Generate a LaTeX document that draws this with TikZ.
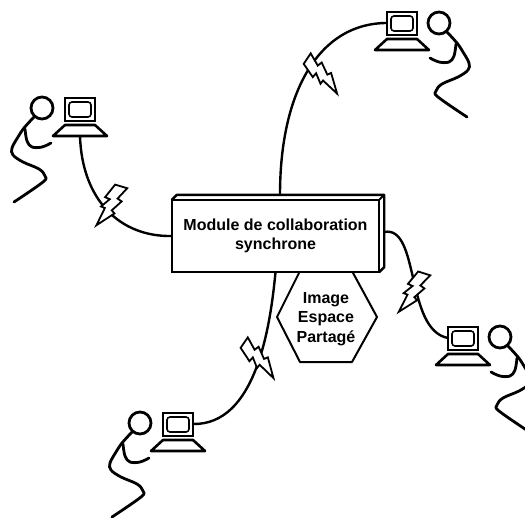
\documentclass[tikz,border=0pt]{standalone}
\usepackage{fontspec}
\setmainfont{Liberation Sans}
\usetikzlibrary{calc}

\tikzset{
  cable/.style={line width=2.4pt, line cap=round},
  label/.style={font=\bfseries\fontsize{16}{19.5}\selectfont, align=center, inner sep=0pt},
  % workstation: monitor with screen and a trapezoid keyboard base
  computer/.pic={
    \draw[line width=2.6pt] (-15,0) rectangle (15,23);
    \draw[line width=1.6pt, rounded corners=3pt] (-11,4) rectangle (11,19);
    \draw[line width=2.6pt, line join=round] (-15,27) -- (15,27) -- (27,38) -- (-27,38) -- cycle;
    \coordinate (-left) at (-15,11);
    \coordinate (-right) at (15,11);
    \coordinate (-foot) at (0,38);
  },
  % stick figure seated at a workstation (head at the origin)
  person/.pic={
    \draw[line width=2.8pt] (0,0) circle (11);
    \draw[line width=2.8pt, line cap=round, line join=round]
      plot[smooth, tension=0.6] coordinates {(8,9) (18,20) (24,29) (30,40) (29,47) (19,54) (3,61) (-3,68) (-1,74) (28,94)};
    \draw[line width=2.8pt, line cap=round, line join=round]
      plot[smooth, tension=0.6] coordinates {(17,21) (15,33) (10,39) (0,39) (-9,35)};
  },
  % lightning bolt, pointing along +y from its top at the origin
  bolt/.pic={
    \filldraw[fill=white, line width=1.8pt, line join=miter]
      (-7,2) -- (5,-2) -- (3,12) -- (8,12) -- (5,25) -- (9,26) -- (1,46)
      -- (-2,27) -- (-6,28) -- (-3,17) -- (-8,18) -- cycle;
  }
}

\begin{document}
\begin{tikzpicture}[x=1pt, y=-1pt]
  \useasboundingbox (0,0) rectangle (525,517);
  \clip (0,0) rectangle (525,517);

  % workstations
  \pic (cL) at (80,98) {computer};
  \pic (cT) at (402,12) {computer};
  \pic (cR) at (463,327) {computer};
  \pic (cB) at (178,413) {computer};

  % users
  \pic[xscale=-1] (uL) at (42,108) {person};
  \pic (uT) at (439,23) {person};
  \pic (uR) at (500,337) {person};
  \pic[xscale=-1] (uB) at (140,423) {person};

  % central module (front face)
  \node[draw, line width=2.4pt, fill=white, minimum width=205pt, minimum height=70pt,
        inner sep=0pt] (mod) at (275.5,236) {};

  % shared image space
  \draw[line width=2pt, line join=round]
    (300,271) -- (277,317) -- (300,362) -- (352,362) -- (377,317) -- (352,271);
  \node[label] (img) at (326,319) {Image\\Espace\\Partagé};

  % links from the module to each workstation
  \draw[cable] (cL-foot) .. controls (82,200) and (120,237) .. (mod.west);
  \draw[cable] ([shift={(4.5,-5)}]mod.north) .. controls (280,90) and (320,23) .. (cT-left);
  \draw[cable] ([shift={(5,-4)}]mod.east) .. controls (420,225) and (405,330) .. (cR-left);
  \draw[cable] (mod.south) .. controls (270,330) and (255,425) .. (cB-right);

  % module box with depth
  \fill[white] (mod.north west) rectangle (mod.south east);
  \draw[line width=2.4pt, line join=round]
    (mod.north west) -- ++(5,-5) -- ([shift={(5,-5)}]mod.north east)
    -- ([shift={(5,-5)}]mod.south east) -- (mod.south east);
  \draw[line width=2pt] (mod.north east) -- ++(5,-5);
  \draw[line width=2.4pt] (mod.north west) rectangle (mod.south east);
  \node[label] (title) at (mod.center) {Module de collaboration\\synchrone};

  % wireless links
  \pic[rotate=-35] (bL) at (122,187) {bolt};
  \pic[rotate=38] (bT) at (308,58) {bolt};
  \pic[rotate=-36] (bR) at (425,274) {bolt};
  \pic[rotate=37] (bB) at (245,342) {bolt};
\end{tikzpicture}
\end{document}
